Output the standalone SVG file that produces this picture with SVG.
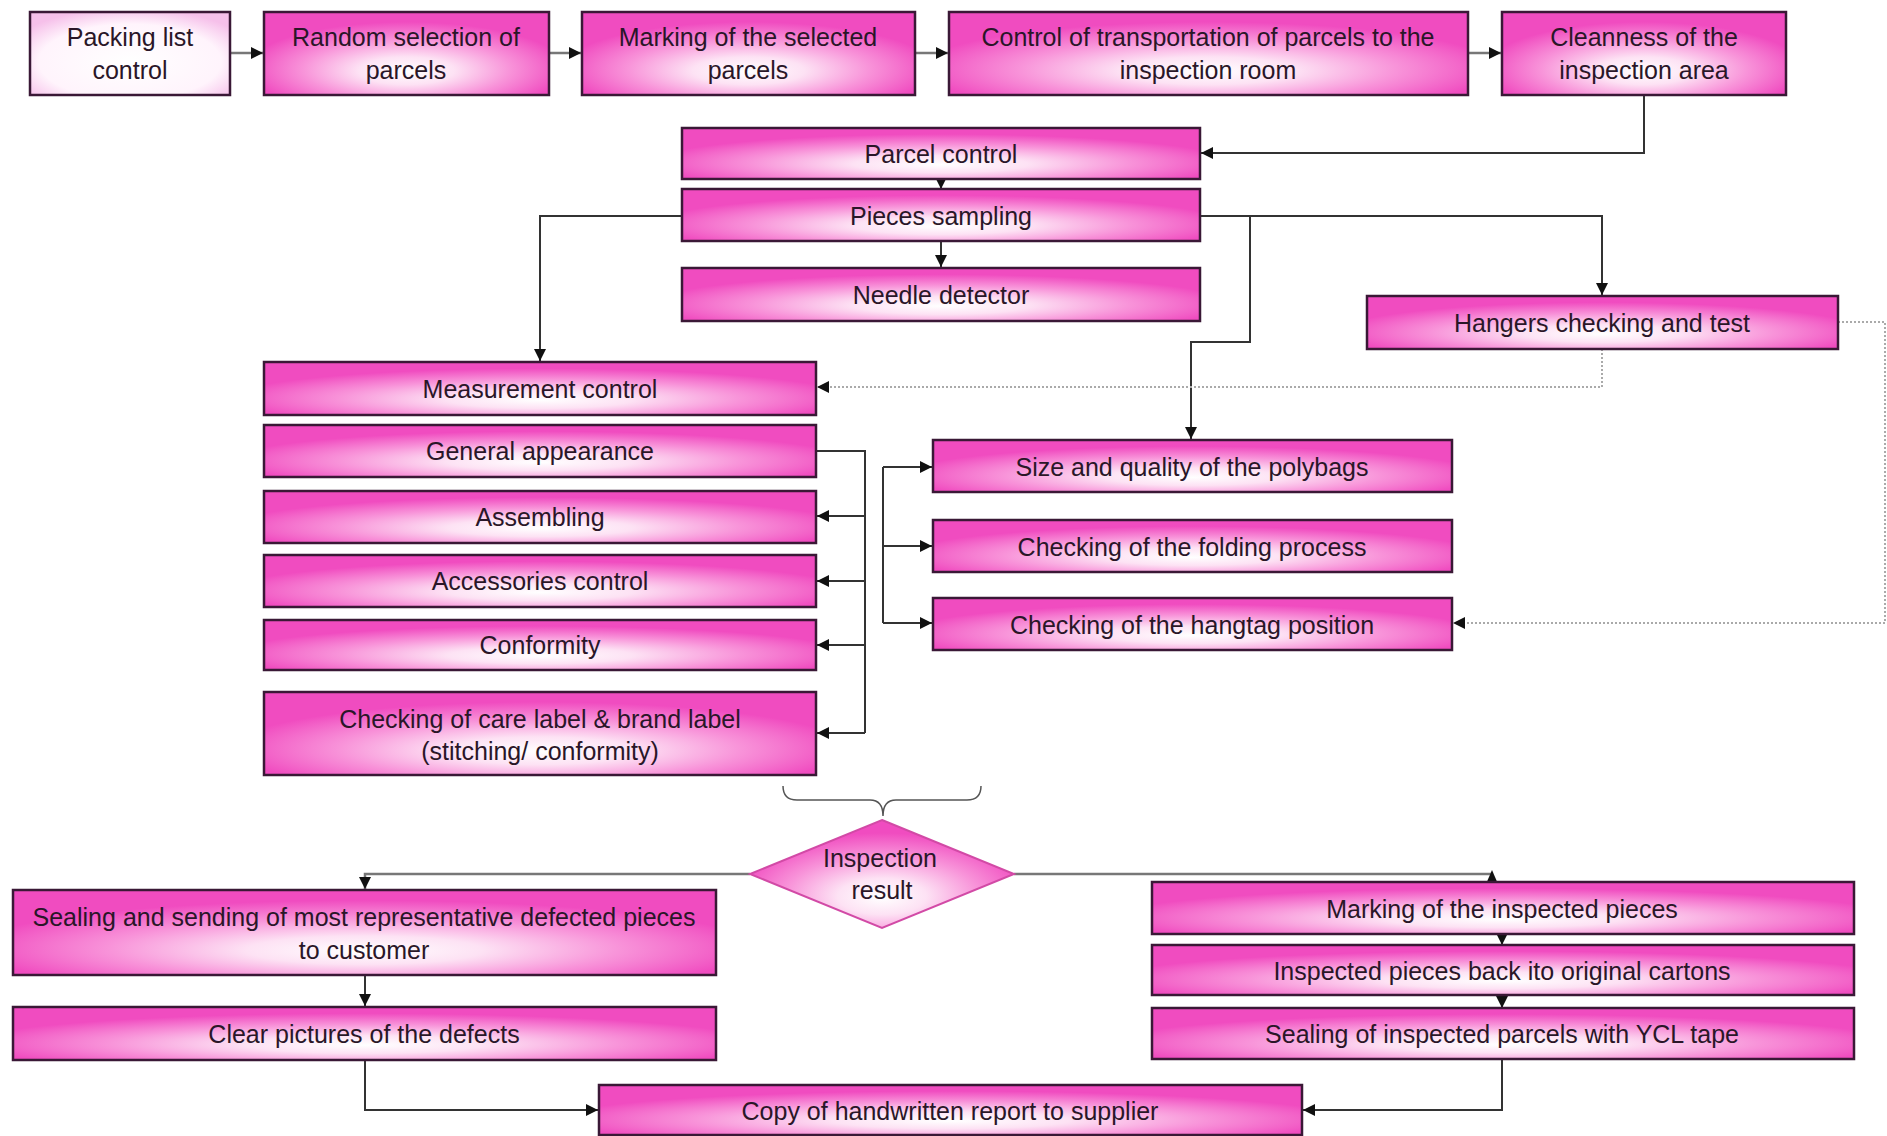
<svg xmlns="http://www.w3.org/2000/svg" width="1887" height="1136" viewBox="0 0 1887 1136">
<defs>
<radialGradient id="pink" cx="50%" cy="68%" r="56%" fx="50%" fy="72%">
<stop offset="0%" stop-color="#ffffff"/>
<stop offset="30%" stop-color="#fde2f4"/>
<stop offset="65%" stop-color="#f893d9"/>
<stop offset="100%" stop-color="#f04cc0"/>
</radialGradient>
<radialGradient id="pale" cx="50%" cy="60%" r="65%">
<stop offset="0%" stop-color="#ffffff"/>
<stop offset="70%" stop-color="#fff4fc"/>
<stop offset="100%" stop-color="#f6c0ea"/>
</radialGradient>
<marker id="arr" viewBox="0 0 10 10" refX="10" refY="5" markerWidth="12" markerHeight="12" markerUnits="userSpaceOnUse" orient="auto">
<path d="M0,0 L10,5 L0,10 z" fill="#111"/>
</marker>
</defs>
<style>
.box{fill:url(#pink);stroke:#3a1836;stroke-width:2.5}
.pale{fill:url(#pale);stroke:#3a1836;stroke-width:2.5}
.t{font-family:"Liberation Sans",Arial,sans-serif;font-size:25px;fill:#2a1628;text-anchor:middle}
.c{fill:none;stroke:#333;stroke-width:2}
.g{fill:none;stroke:#777;stroke-width:2.5}
.d{fill:none;stroke:#aaa;stroke-width:2;stroke-dasharray:2 2}
</style>
<rect width="1887" height="1136" fill="#ffffff"/>

<g id="connectors">
<line class="g" x1="230" y1="53" x2="263" y2="53" marker-end="url(#arr)"/>
<line class="g" x1="549" y1="53" x2="581" y2="53" marker-end="url(#arr)"/>
<line class="g" x1="915" y1="53" x2="948" y2="53" marker-end="url(#arr)"/>
<line class="g" x1="1468" y1="53" x2="1501" y2="53" marker-end="url(#arr)"/>
<path class="c" d="M1644,95 V153 H1201" marker-end="url(#arr)"/>
<path class="c" d="M941,179 V189" marker-end="url(#arr)"/>
<path class="c" d="M941,241 V267" marker-end="url(#arr)"/>
<path class="c" d="M682,216 H540 V361" marker-end="url(#arr)"/>
<path class="c" d="M1200,216 H1602 V295" marker-end="url(#arr)"/>
<path class="c" d="M1250,216 V342 H1191 V439" marker-end="url(#arr)"/>
<path class="d" d="M1602,349 V387 H817" marker-end="url(#arr)"/>
<path class="d" d="M1838,322 H1885 V623 H1453" marker-end="url(#arr)"/>
<path class="c" d="M816,451 H865 V733"/>
<path class="c" d="M865,516 H817" marker-end="url(#arr)"/>
<path class="c" d="M865,581 H817" marker-end="url(#arr)"/>
<path class="c" d="M865,645 H817" marker-end="url(#arr)"/>
<path class="c" d="M865,733 H817" marker-end="url(#arr)"/>
<path class="c" d="M883,467 V623"/>
<path class="c" d="M883,467 H932" marker-end="url(#arr)"/>
<path class="c" d="M883,546 H932" marker-end="url(#arr)"/>
<path class="c" d="M883,623 H932" marker-end="url(#arr)"/>
<path fill="none" stroke="#555" stroke-width="1.5" d="M783,786 Q783,800 797,800 H870 Q883,800 883,816 Q883,800 896,800 H967 Q981,800 981,786"/>
<path class="g" d="M750,874 H365 V889" marker-end="url(#arr)"/>
<path class="g" d="M1014,874 H1492"/>
<polygon points="1486,884 1498,884 1492,870" fill="#111"/>
<path class="c" d="M365,975 V1006" marker-end="url(#arr)"/>
<path class="c" d="M365,1060 V1110 H598" marker-end="url(#arr)"/>
<path class="c" d="M1502,934 V945" marker-end="url(#arr)"/>
<path class="c" d="M1502,995 V1008" marker-end="url(#arr)"/>
<path class="c" d="M1502,1059 V1110 H1303" marker-end="url(#arr)"/>
</g>

<g id="n-packing"><rect class="pale" x="30" y="12" width="200" height="83"/><text class="t" x="130" y="46">Packing list</text><text class="t" x="130" y="79">control</text></g>
<g id="n-random"><rect class="box" x="264" y="12" width="285" height="83"/><text class="t" x="406" y="46">Random selection of</text><text class="t" x="406" y="79">parcels</text></g>
<g id="n-marking"><rect class="box" x="582" y="12" width="333" height="83"/><text class="t" x="748" y="46">Marking of the selected</text><text class="t" x="748" y="79">parcels</text></g>
<g id="n-transport"><rect class="box" x="949" y="12" width="519" height="83"/><text class="t" x="1208" y="46">Control of transportation of parcels to the</text><text class="t" x="1208" y="79">inspection room</text></g>
<g id="n-cleanness"><rect class="box" x="1502" y="12" width="284" height="83"/><text class="t" x="1644" y="46">Cleanness of the</text><text class="t" x="1644" y="79">inspection area</text></g>

<g id="n-parcel"><rect class="box" x="682" y="128" width="518" height="51"/><text class="t" x="941" y="163">Parcel control</text></g>
<g id="n-pieces"><rect class="box" x="682" y="189" width="518" height="52"/><text class="t" x="941" y="225">Pieces sampling</text></g>
<g id="n-needle"><rect class="box" x="682" y="268" width="518" height="53"/><text class="t" x="941" y="304">Needle detector</text></g>
<g id="n-hangers"><rect class="box" x="1367" y="296" width="471" height="53"/><text class="t" x="1602" y="332">Hangers checking and test</text></g>

<g id="n-measure"><rect class="box" x="264" y="362" width="552" height="53"/><text class="t" x="540" y="398">Measurement control</text></g>
<g id="n-general"><rect class="box" x="264" y="425" width="552" height="52"/><text class="t" x="540" y="460">General appearance</text></g>
<g id="n-assembling"><rect class="box" x="264" y="491" width="552" height="52"/><text class="t" x="540" y="526">Assembling</text></g>
<g id="n-accessories"><rect class="box" x="264" y="555" width="552" height="52"/><text class="t" x="540" y="590">Accessories control</text></g>
<g id="n-conformity"><rect class="box" x="264" y="620" width="552" height="50"/><text class="t" x="540" y="654">Conformity</text></g>
<g id="n-carelabel"><rect class="box" x="264" y="692" width="552" height="83"/><text class="t" x="540" y="728">Checking of care label  &amp; brand label</text><text class="t" x="540" y="760">(stitching/ conformity)</text></g>

<g id="n-polybags"><rect class="box" x="933" y="440" width="519" height="52"/><text class="t" x="1192" y="476">Size and quality of the polybags</text></g>
<g id="n-folding"><rect class="box" x="933" y="520" width="519" height="52"/><text class="t" x="1192" y="556">Checking of the folding process</text></g>
<g id="n-hangtag"><rect class="box" x="933" y="598" width="519" height="52"/><text class="t" x="1192" y="634">Checking of the hangtag position</text></g>

<g id="n-result"><polygon points="882,820 1014,874 882,928 750,874" fill="url(#pink)" stroke="#d24aa6" stroke-width="2"/><text class="t" x="880" y="867">Inspection</text><text class="t" x="882" y="899">result</text></g>

<g id="n-sealing-send"><rect class="box" x="13" y="890" width="703" height="85"/><text class="t" x="364" y="926">Sealing and sending of most representative defected pieces</text><text class="t" x="364" y="959">to customer</text></g>
<g id="n-pictures"><rect class="box" x="13" y="1007" width="703" height="53"/><text class="t" x="364" y="1043">Clear pictures of the defects</text></g>
<g id="n-copy"><rect class="box" x="599" y="1085" width="703" height="50"/><text class="t" x="950" y="1120">Copy of handwritten report to supplier</text></g>

<g id="n-mark-insp"><rect class="box" x="1152" y="882" width="702" height="52"/><text class="t" x="1502" y="918">Marking of the inspected pieces</text></g>
<g id="n-back"><rect class="box" x="1152" y="945" width="702" height="50"/><text class="t" x="1502" y="980">Inspected pieces back ito original cartons</text></g>
<g id="n-ycl"><rect class="box" x="1152" y="1008" width="702" height="51"/><text class="t" x="1502" y="1043">Sealing of inspected parcels with YCL tape</text></g>
</svg>
